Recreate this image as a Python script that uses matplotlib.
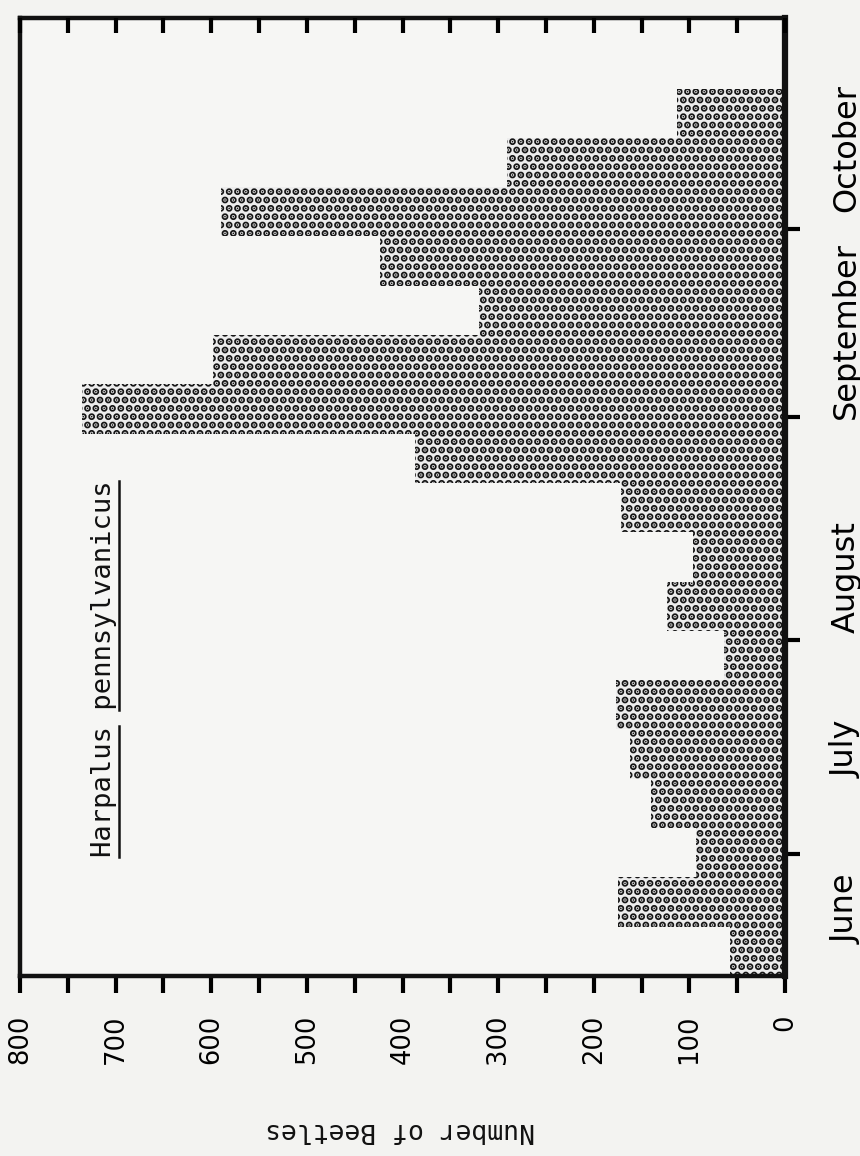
import matplotlib
matplotlib.use("Agg")
import matplotlib.pyplot as plt
import numpy as np
from matplotlib.lines import Line2D

# ---- data ----
counts = [58, 175, 93, 140, 162, 177, 64, 123, 96, 172,
          387, 735, 598, 320, 424, 590, 291, 113]
months = ["June", "July", "August", "September", "October"]
month_label_pos = [1.36, 4.6, 8.1, 13.1, 16.8]
month_bounds = [2.47, 6.82, 11.34, 15.16]
value_ticks = list(range(0, 801, 50))
value_labels = [str(v) if v % 100 == 0 else "" for v in value_ticks]
title_words = ["Harpalus", "pennsylvanicus"]
value_label = "Number of Beetles"

plt.rcParams["hatch.linewidth"] = 3.6
plt.rcParams["hatch.color"] = "#161616"

MONO = ["DejaVu Sans Mono"]

fig = plt.figure(figsize=(8.6, 11.56), dpi=100)
fig.patch.set_facecolor("#f3f3f1")
ax = fig.add_axes([20 / 860, 1 - 976 / 1156, 765 / 860, 958 / 1156])
ax.set_facecolor("#f6f6f4")

pos = np.arange(len(counts)) + 0.5
ax.barh(pos, counts, height=1.0, color="#ededed", edgecolor="#161616",
        hatch="..", linewidth=0)

ax.set_xlim(800, 0)
ax.set_ylim(0, 19.43)

# value axis (bottom)
ax.set_xticks(value_ticks)
ax.set_xticklabels(value_labels, rotation=90, fontsize=18.5, family="DejaVu Sans")
ax.tick_params(axis="x", which="major", direction="out", length=12, width=3,
               pad=16, bottom=True, top=False)

# top ticks pointing inward
axt = ax.twiny()
axt.set_xlim(800, 0)
axt.set_xticks(value_ticks)
axt.set_xticklabels([])
axt.tick_params(axis="x", direction="in", length=11, width=3)
for s in axt.spines.values():
    s.set_visible(False)

# month axis (right)
ax.yaxis.tick_right()
ax.set_yticks(month_bounds)
ax.set_yticklabels([])
ax.set_yticks(month_label_pos, minor=True)
ax.set_yticklabels(months, minor=True, rotation=90, va="center", fontsize=23)
ax.tick_params(axis="y", which="major", direction="out", length=11, width=3,
               left=False, right=True)
ax.tick_params(axis="y", which="minor", length=0, pad=33, left=False, right=True)

for name, s in ax.spines.items():
    s.set_linewidth(3.2)
    s.set_color("#111111")
ax.spines["right"].set_linewidth(4.5)

# title (rotated, underlined words)
full_title = " ".join(title_words)
t = ax.text(0.093, 0.124, full_title, transform=ax.transAxes, rotation=90,
            ha="left", va="bottom", fontsize=19.5, family=MONO, color="#111111")

fig.text(400 / 860, 1 - 1130 / 1156, value_label, rotation=180, ha="center",
         va="center", fontsize=19, family=MONO, color="#111111")

fig.canvas.draw()
bb = t.get_window_extent()
nchar = len(full_title)
c = (bb.y1 - bb.y0) / nchar
inv = fig.transFigure.inverted()
ux = bb.x1 + 1.5
start = 0
for w in title_words:
    y0 = bb.y0 + start * c
    y1 = bb.y0 + (start + len(w)) * c
    p0 = inv.transform((ux, y0))
    p1 = inv.transform((ux, y1))
    fig.add_artist(Line2D([p0[0], p1[0]], [p0[1], p1[1]],
                          transform=fig.transFigure, color="#111111", lw=1.8))
    start += len(w) + 1

fig.savefig("out.png", dpi=100, facecolor=fig.get_facecolor())
